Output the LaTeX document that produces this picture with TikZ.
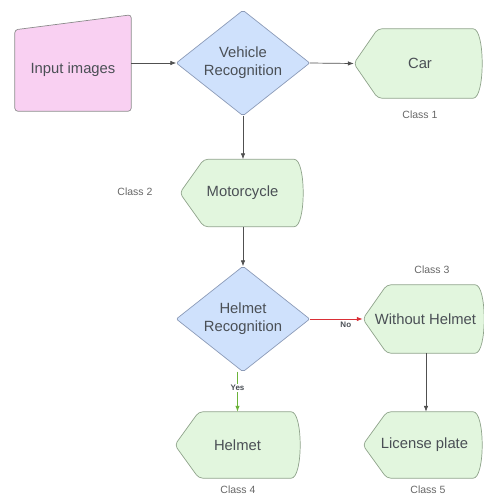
\documentclass[tikz,border=0pt]{standalone}
\usepackage{fontspec}
\setmainfont{Liberation Sans}
\usetikzlibrary{arrows.meta,backgrounds}
\definecolor{pinkfill}{HTML}{F9D0F2}
\definecolor{bluefill}{HTML}{CFE1FC}
\definecolor{greenfill}{HTML}{E2F6DE}
\definecolor{edgegray}{HTML}{8C8C8C}
\definecolor{blueedge}{HTML}{8C9BB8}
\definecolor{greenedge}{HTML}{8FA38B}
\definecolor{txt}{HTML}{4A4F55}
\definecolor{clstxt}{HTML}{666666}
\definecolor{linegray}{HTML}{505050}
\definecolor{noline}{HTML}{DA2F36}
\definecolor{yesline}{HTML}{6BB33A}
\tikzset{
  box/.style={inner sep=0pt, text=txt, align=center, font=\fontsize{14.8}{18}\selectfont},
  shapein/.style={fill=pinkfill, draw=edgegray, line width=0.7pt, rounded corners=3pt},
  shapedia/.style={fill=bluefill, draw=blueedge, line width=0.7pt, rounded corners=2pt},
  shapedisp/.style={fill=greenfill, draw=greenedge, line width=0.7pt, rounded corners=4pt},
  cls/.style={text=clstxt, font=\fontsize{10.5}{12}\selectfont},
  conn/.style={line width=0.7pt, -{Latex[length=6pt,width=4.5pt]}},
  lbl/.style={font=\bfseries\fontsize{8}{9}\selectfont, text=txt, inner sep=1pt}
}
\newcommand\dispshape[1]{%
  \path[shapedisp] (#1.west) -- ([xshift=24pt]#1.north west) -- ([xshift=-13pt]#1.north east)
    .. controls ([xshift=3pt]#1.north east) and ([xshift=3pt]#1.south east) .. ([xshift=-13pt]#1.south east)
    -- ([xshift=24pt]#1.south west) -- cycle;}
\newcommand\diashape[1]{%
  \path[shapedia] (#1.north) -- (#1.east) -- (#1.south) -- (#1.west) -- cycle;}
\begin{document}
\begin{tikzpicture}[x=1pt,y=-1pt]
\useasboundingbox (0,0) rectangle (484,496);

% nodes
\node[box, minimum width=116pt, minimum height=96pt] (in) at (73,63) {};
\node[box] (intxt) at (73,70) {Input images};
\node[box, minimum width=133pt, minimum height=105pt] (vr) at (243,63) {Vehicle\\Recognition};
\node[box, minimum width=128pt, minimum height=69pt] (car) at (418,63.5) {\hspace*{4pt}Car};
\node[cls] (c1) at (420,115) {Class 1};

\node[box, minimum width=123pt, minimum height=67pt] (moto) at (241.5,193) {\hspace*{2pt}Motorcycle};
\node[cls] (c2) at (135,192) {Class 2};

\node[box, minimum width=133pt, minimum height=105pt] (hr) at (243,319) {Helmet\\Recognition};
\node[box, minimum width=121pt, minimum height=68pt] (woh) at (423.5,319) {\hspace*{4pt}Without Helmet};
\node[cls] (c3) at (432,270) {Class 3};

\node[box, minimum width=125pt, minimum height=66pt] (helmet) at (237.5,445) {Helmet};
\node[box, minimum width=119pt, minimum height=66pt] (lp) at (422.5,445) {\hspace*{4pt}License plate};
\node[cls] (c4) at (238,490) {Class 4};
\node[cls] (c5) at (428,490) {Class 5};

% shapes behind
\begin{pgfonlayer}{background}
  \path[shapein] (in.south west) -- (in.south east) -- (in.north east) -- ([yshift=-15pt]in.north west) -- cycle;
  \diashape{vr}
  \diashape{hr}
  \dispshape{car}
  \dispshape{moto}
  \dispshape{woh}
  \dispshape{helmet}
  \dispshape{lp}
\end{pgfonlayer}

% connectors
\draw[conn, color=linegray] (in.east) -- (vr.west);
\draw[conn, color=linegray] (vr.east) -- (car.west);
\draw[conn, color=linegray] (vr.south) -- (vr.south |- moto.north);
\draw[conn, color=linegray] (moto.south -| hr.north) -- (hr.north);
\draw[conn, color=noline, line width=1pt] (hr.east) -- node[lbl, pos=0.68, below=1pt] (no) {No} (woh.west);
\draw[conn, color=yesline, line width=1pt] (helmet.north |- hr.south) -- node[lbl, fill=white, pos=0.4] (yes) {Yes} (helmet.north);
\draw[conn, color=linegray] ([xshift=2.5pt]woh.south) -- ([xshift=2.5pt]woh.south |- lp.north);
\end{tikzpicture}
\end{document}
